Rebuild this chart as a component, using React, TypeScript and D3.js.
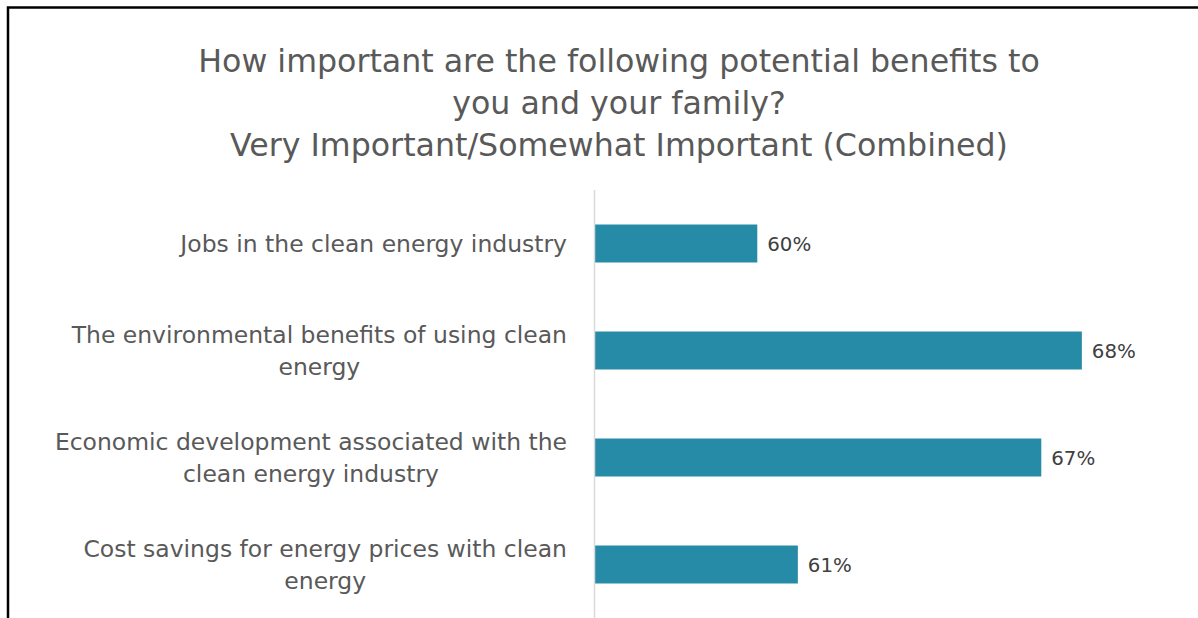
import React, { useEffect, useRef } from "react";
import * as d3 from "d3";

const titleLines = [
  "How important are the following potential benefits to",
  "you and your family?",
  "Very Important/Somewhat Important (Combined)",
];
const categories = [
  "Jobs in the clean energy industry",
  "The environmental benefits of using clean energy",
  "Economic development associated with the clean energy industry",
  "Cost savings for energy prices with clean energy",
];
const labelLines = [
  ["Jobs in the clean energy industry"],
  ["The environmental benefits of using clean", "energy"],
  ["Economic development associated with the", "clean energy industry"],
  ["Cost savings for energy prices with clean", "energy"],
];
const values = [60, 68, 67, 61];
const xDomain = [56, 70];

const W = 1198;
const H = 618;
const FONT = "'DejaVu Sans', sans-serif";

function fitSize(svg: any, text: string, base: number, target: number) {
  const t = svg.append("text").attr("font-family", FONT).attr("font-size", base).text(text);
  const w = (t.node() as SVGTextContentElement).getComputedTextLength();
  t.remove();
  return (base * target) / w;
}

export default function App() {
  const ref = useRef<SVGSVGElement>(null);
  useEffect(() => {
    const svg = d3.select(ref.current);
    svg.selectAll("*").remove();

    // frame
    svg.append("path")
      .attr("d", `M8,${H} L8,7.5 L${W},7.5`)
      .attr("fill", "none")
      .attr("stroke", "#000")
      .attr("stroke-width", 2.5);
    svg.append("text")
      .attr("x", 584).attr("y", -5)
      .attr("text-anchor", "middle")
      .attr("font-family", FONT).attr("font-size", 16).attr("font-weight", 700)
      .attr("fill", "#000").text("g");

    // title
    const titleSize = fitSize(svg, titleLines[0], 30, 842);
    const title = svg.append("text")
      .attr("text-anchor", "middle")
      .attr("font-family", FONT)
      .attr("font-size", titleSize)
      .attr("fill", "#595959");
    titleLines.forEach((l, i) => {
      title.append("tspan").attr("x", 619).attr("y", 72 + i * 42).text(l);
    });

    const x = d3.scaleLinear().domain(xDomain).range([595, 1163]);
    const y = d3.scaleBand<string>().domain(categories).range([190, 618])
      .paddingInner(0.645).paddingOuter(0.3225);

    // bars
    svg.append("g").selectAll("rect").data(values).join("rect")
      .attr("x", x(xDomain[0]))
      .attr("y", (_, i) => y(categories[i])!)
      .attr("width", (d) => x(d) - x(xDomain[0]))
      .attr("height", y.bandwidth())
      .attr("fill", "#268BA6");

    // axis line
    svg.append("line")
      .attr("x1", 594.5).attr("x2", 594.5).attr("y1", 190).attr("y2", H)
      .attr("stroke", "#d9d9d9").attr("stroke-width", 1.5);

    // value labels
    const valSize = fitSize(svg, "60%", 20, 44);
    svg.append("g").selectAll("text").data(values).join("text")
      .attr("x", (d) => x(d) + 10)
      .attr("y", (_, i) => y(categories[i])! + y.bandwidth() / 2 + 7)
      .attr("font-family", FONT).attr("font-size", valSize)
      .attr("fill", "#404040")
      .text((d) => `${d}%`);

    // category labels
    const labSize = fitSize(svg, labelLines[0][0], 22, 387);
    const right = 567;
    const lineH = 32;
    labelLines.forEach((lines, i) => {
      const cy = y(categories[i])! + y.bandwidth() / 2;
      const t = svg.append("text")
        .attr("text-anchor", "middle")
        .attr("font-family", FONT).attr("font-size", labSize)
        .attr("fill", "#595959");
      const spans = lines.map((l, j) =>
        t.append("tspan").attr("y", cy + 8 + (j - (lines.length - 1) / 2) * lineH).text(l)
      );
      const widths = spans.map((s) => (s.node() as SVGTextContentElement).getComputedTextLength());
      const mw = Math.max(...widths);
      spans.forEach((s) => s.attr("x", right - mw / 2));
    });
  }, []);
  return (
    <svg ref={ref} width={W} height={H}
      style={{ position: "absolute", left: 0, top: 0, background: "#fff" }} />
  );
}
